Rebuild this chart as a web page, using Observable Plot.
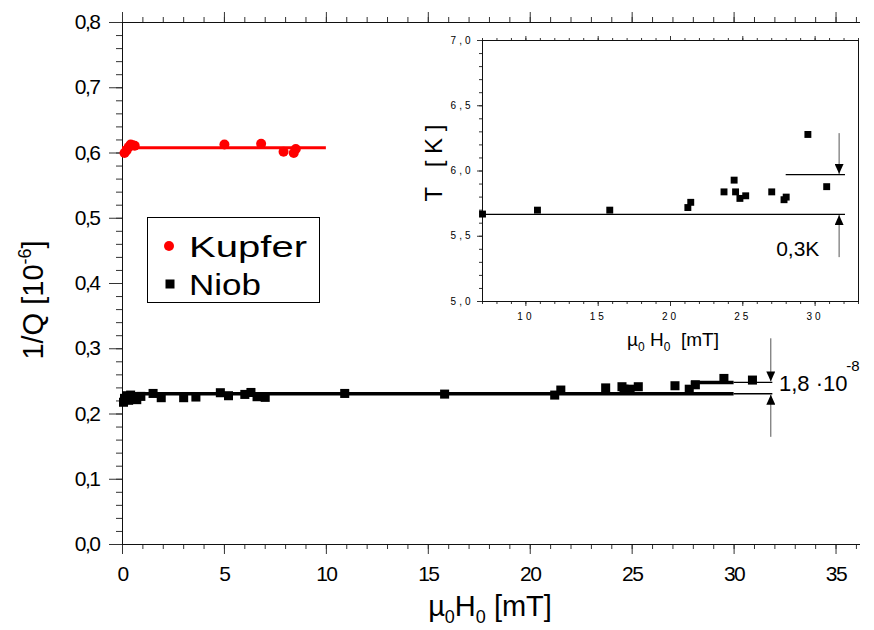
<!DOCTYPE html>
<html><head><meta charset="utf-8">
<script src="https://cdn.jsdelivr.net/npm/d3@7"></script>
<script src="https://cdn.jsdelivr.net/npm/@observablehq/plot@0.6"></script>
<style>
body{margin:0;background:#fff;}
#wrap{position:relative;width:874px;height:630px;overflow:hidden;background:#fff;}
#inset{position:absolute;left:420px;top:20px;}
</style></head><body><div id="wrap"><div id="main"></div><div id="inset"></div></div>
<script>
// ---------- data ----------
const kupferH = [0.1, 0.2, 0.3, 0.4, 0.5, 0.6, 5.0, 6.8, 7.9, 8.4, 8.5];
const kupferQ = [0.600, 0.604, 0.609, 0.613, 0.612, 0.611, 0.613, 0.614, 0.602, 0.600, 0.606];
const niobH = [0.05, 0.1, 0.2, 0.3, 0.4, 0.5, 0.7, 0.9, 1.5, 1.9, 3.0, 3.6, 4.8, 5.2, 6.0, 6.3, 6.6, 7.0, 10.9, 15.8, 21.2, 21.5, 23.7, 24.5, 24.6, 24.9, 25.3, 27.1, 27.8, 28.1, 29.5, 30.9];
const niobQ = [0.218, 0.224, 0.228, 0.221, 0.229, 0.226, 0.222, 0.227, 0.2315, 0.225, 0.225, 0.226, 0.2326, 0.228, 0.230, 0.233, 0.2265, 0.2255, 0.2315, 0.2305, 0.229, 0.2367, 0.240, 0.2418, 0.238, 0.238, 0.2418, 0.2433, 0.238, 0.2448, 0.2545, 0.252];
const insetH = [7.0, 10.8, 15.8, 21.2, 21.4, 23.7, 24.4, 24.5, 24.8, 25.2, 27.0, 27.85, 28.0, 29.5, 30.8];
const insetT = [5.67, 5.70, 5.70, 5.72, 5.76, 5.84, 5.93, 5.84, 5.79, 5.81, 5.84, 5.78, 5.80, 6.28, 5.88];

const xTicksMain = [0, 5, 10, 15, 20, 25, 30, 35];
const xMinorMain = d3.range(0, 37, 1);
const yTicksMain = [0, 0.1, 0.2, 0.3, 0.4, 0.5, 0.6, 0.7, 0.8];
const yMinorMain = d3.range(0, 41).map(i => i * 0.02);
const insetXTicks = [10, 15, 20, 25, 30];
const insetXMinor = d3.range(7, 34, 1);
const insetYTicks = [5, 5.5, 6, 6.5, 7];
const insetYMinor = d3.range(0, 21).map(i => 5 + i * 0.1);

const kupferFit = [{q: 0.608, h1: 0, h2: 10}];
const niobFitThick = [{q: 0.231, h1: 0, h2: 30}, {q: 0.2484, h1: 27.9, h2: 30}];
const niobFitThin = [{q: 0.231, h1: 30, h2: 31.9}, {q: 0.2484, h1: 30, h2: 31.9}];
const mainArrows = [{h: 31.8, q1: 0.316, q2: 0.2500}, {h: 31.8, q1: 0.165, q2: 0.2295}];
const mainNote = [{h: 32.2, q: 0.246, text: "1,8 ·10"}];
const mainNoteSup = [{h: 35.5, q: 0.274, text: "-8"}];
const insetFits = [{t: 5.667, h1: 7, h2: 32.1}, {t: 5.972, h1: 28, h2: 32.1}];
const insetArrows = [{h: 31.66, t1: 6.29, t2: 5.978}, {h: 31.66, t1: 5.34, t2: 5.662}];
const insetNote = [{h: 28.8, t: 5.40, text: "0,3K"}];

const kupfer = kupferH.map((h, i) => ({h, q: kupferQ[i]}));
const niob = niobH.map((h, i) => ({h, q: niobQ[i]}));
const insetPts = insetH.map((h, i) => ({h, t: insetT[i]}));
const comma = d => d.toFixed(1).replace(".", ",");
const blank = () => "";

function filledHead() {
  const ns = "http://www.w3.org/2000/svg";
  const m = document.createElementNS(ns, "marker");
  m.setAttribute("viewBox", "-10 -4.5 10 9");
  m.setAttribute("markerWidth", "10");
  m.setAttribute("markerHeight", "9");
  m.setAttribute("markerUnits", "userSpaceOnUse");
  m.setAttribute("orient", "auto");
  m.setAttribute("refX", "0");
  m.setAttribute("refY", "0");
  const p = document.createElementNS(ns, "path");
  p.setAttribute("d", "M-10,-4.5L0,0L-10,4.5Z");
  p.setAttribute("fill", "#000");
  p.setAttribute("stroke", "none");
  m.appendChild(p);
  return m;
}

const FONT = "'Liberation Sans', Arial, sans-serif";
const TICK = "#333";

// ---------- main chart ----------
const main = Plot.plot({
  width: 874, height: 630,
  marginLeft: 122, marginRight: 14, marginTop: 22, marginBottom: 86,
  style: {background: "white", fontFamily: FONT, color: "#000", overflow: "visible"},
  x: {domain: [0, 36.2]},
  y: {domain: [0, 0.8]},
  marks: [
    Plot.axisX(xMinorMain, {anchor: "bottom", tickSize: 5, tickFormat: blank, label: null, stroke: TICK}),
    Plot.axisX(xTicksMain, {anchor: "bottom", tickSize: 10, tickPadding: 12, tickFormat: d => String(d), fontSize: 21, label: null, stroke: TICK}),
    Plot.axisX(xMinorMain, {anchor: "top", tickSize: 6, tickFormat: blank, label: null, stroke: TICK}),
    Plot.axisX(xTicksMain, {anchor: "top", tickSize: 11, tickFormat: blank, label: null, stroke: TICK}),
    Plot.axisY(yMinorMain, {anchor: "left", tickSize: 6, tickFormat: blank, label: null, stroke: TICK}),
    Plot.axisY(yTicksMain, {anchor: "left", tickSize: 13, tickPadding: 10, tickFormat: comma, fontSize: 21, label: null, stroke: TICK}),
    Plot.ruleY([0.8], {stroke: "#111"}),
    Plot.ruleY([0], {stroke: "#111"}),
    Plot.ruleX([0], {stroke: "#111"}),
    Plot.ruleY(kupferFit, {y: "q", x1: "h1", x2: "h2", stroke: "#ff0000", strokeWidth: 3}),
    Plot.ruleY(niobFitThick, {y: "q", x1: "h1", x2: "h2", stroke: "#000", strokeWidth: 3.5}),
    Plot.ruleY(niobFitThin, {y: "q", x1: "h1", x2: "h2", stroke: "#000", strokeWidth: 1.3}),
    Plot.dot(kupfer, {x: "h", y: "q", r: 5, fill: "#ff0000", stroke: "none"}),
    Plot.dot(niob, {x: "h", y: "q", r: 5.1, symbol: "square", fill: "#000", stroke: "none"}),
    Plot.link(mainArrows, {x1: "h", x2: "h", y1: "q1", y2: "q2", stroke: "#555", strokeWidth: 1, markerEnd: filledHead}),
    Plot.text(mainNote, {x: "h", y: "q", text: "text", textAnchor: "start", fontSize: 22, fill: "#000"}),
    Plot.text(mainNoteSup, {x: "h", y: "q", text: "text", textAnchor: "start", fontSize: 15, fill: "#000"})
  ]
});
document.getElementById("main").appendChild(main);

const ms = d3.select(main);
ms.selectAll('g[aria-label="x-axis tick label"] text').attr("letter-spacing", "-1.5");
ms.selectAll('g[aria-label="y-axis tick label"] text').attr("letter-spacing", "-1.5");

// axis titles
const yt = ms.append("text").attr("transform", "translate(43,300) rotate(-90)")
  .attr("text-anchor", "middle").attr("font-size", 29).attr("font-family", FONT).attr("fill", "#000");
yt.append("tspan").text("1/Q [10");
yt.append("tspan").attr("dy", -12).attr("font-size", 18).text("-6");
yt.append("tspan").attr("dy", 12).text("]");

const xt = ms.append("text").attr("x", 490).attr("y", 616)
  .attr("text-anchor", "middle").attr("font-size", 29).attr("font-family", FONT).attr("fill", "#000");
xt.append("tspan").text("\u00b5");
xt.append("tspan").attr("dy", 7).attr("font-size", 18).text("0");
xt.append("tspan").attr("dy", -7).text("H");
xt.append("tspan").attr("dy", 7).attr("font-size", 18).text("0");
xt.append("tspan").attr("dy", -7).text(" [mT]");

// legend
const lg = ms.append("g").attr("font-family", FONT).attr("text-anchor", "start");
lg.append("rect").attr("x", 147.5).attr("y", 217.5).attr("width", 172).attr("height", 85)
  .attr("fill", "white").attr("stroke", "#000").attr("stroke-width", 1);
lg.append("circle").attr("cx", 169).attr("cy", 246).attr("r", 5).attr("fill", "#ff0000");
lg.append("rect").attr("x", 165.5).attr("y", 279.5).attr("width", 9).attr("height", 9).attr("fill", "#000");
lg.append("text").attr("x", 189).attr("y", 257).attr("font-size", 29).attr("text-anchor", "start")
  .attr("textLength", 118).attr("lengthAdjust", "spacingAndGlyphs").text("Kupfer");
lg.append("text").attr("x", 189).attr("y", 295).attr("font-size", 29).attr("text-anchor", "start")
  .attr("textLength", 72).attr("lengthAdjust", "spacingAndGlyphs").text("Niob");

// ---------- inset ----------
const inset = Plot.plot({
  width: 450, height: 340,
  marginLeft: 62, marginRight: 12, marginTop: 20, marginBottom: 59,
  style: {background: "transparent", fontFamily: FONT, color: "#000", overflow: "visible"},
  x: {domain: [7, 33]},
  y: {domain: [5, 7]},
  marks: [
    Plot.axisX(insetXMinor, {anchor: "bottom", tickSize: 3, tickFormat: blank, label: null, stroke: TICK}),
    Plot.axisX(insetXTicks, {anchor: "bottom", tickSize: 5, tickPadding: 6, tickFormat: d => String(d), fontSize: 10, label: null, stroke: TICK}),
    Plot.axisX(insetXMinor, {anchor: "top", tickSize: 3, tickFormat: blank, label: null, stroke: TICK}),
    Plot.axisX(insetXTicks, {anchor: "top", tickSize: 5, tickFormat: blank, label: null, stroke: TICK}),
    Plot.axisY(insetYMinor, {anchor: "left", tickSize: 3, tickFormat: blank, label: null, stroke: TICK}),
    Plot.axisY(insetYTicks, {anchor: "left", tickSize: 5, tickPadding: 4, tickFormat: comma, fontSize: 10, label: null, stroke: TICK}),
    Plot.frame({stroke: "#111"}),
    Plot.ruleY(insetFits, {y: "t", x1: "h1", x2: "h2", stroke: "#000", strokeWidth: 1.2}),
    Plot.dot(insetPts, {x: "h", y: "t", r: 3.9, symbol: "square", fill: "#000", stroke: "none"}),
    Plot.link(insetArrows, {x1: "h", x2: "h", y1: "t1", y2: "t2", stroke: "#555", strokeWidth: 1, markerEnd: filledHead}),
    Plot.text(insetNote, {x: "h", y: "t", text: "text", fontSize: 21, fill: "#000"})
  ]
});
document.getElementById("inset").appendChild(inset);
const is = d3.select(inset);
is.selectAll('g[aria-label="x-axis tick label"] text').attr("letter-spacing", "3");
is.selectAll('g[aria-label="y-axis tick label"] text').attr("letter-spacing", "3");

is.append("text").attr("transform", "translate(22,143) rotate(-90)")
  .attr("text-anchor", "middle").attr("font-size", 24).attr("font-family", FONT).attr("fill", "#000")
  .text("T   [ K ]");
const ix = is.append("text").attr("x", 253).attr("y", 326)
  .attr("text-anchor", "middle").attr("font-size", 19).attr("font-family", FONT).attr("fill", "#000");
ix.append("tspan").text("\u00b5");
ix.append("tspan").attr("dy", 5).attr("font-size", 12).text("0");
ix.append("tspan").attr("dy", -5).text(" H");
ix.append("tspan").attr("dy", 5).attr("font-size", 12).text("0");
ix.append("tspan").attr("dy", -5).text("  [mT]");
</script></body></html>
